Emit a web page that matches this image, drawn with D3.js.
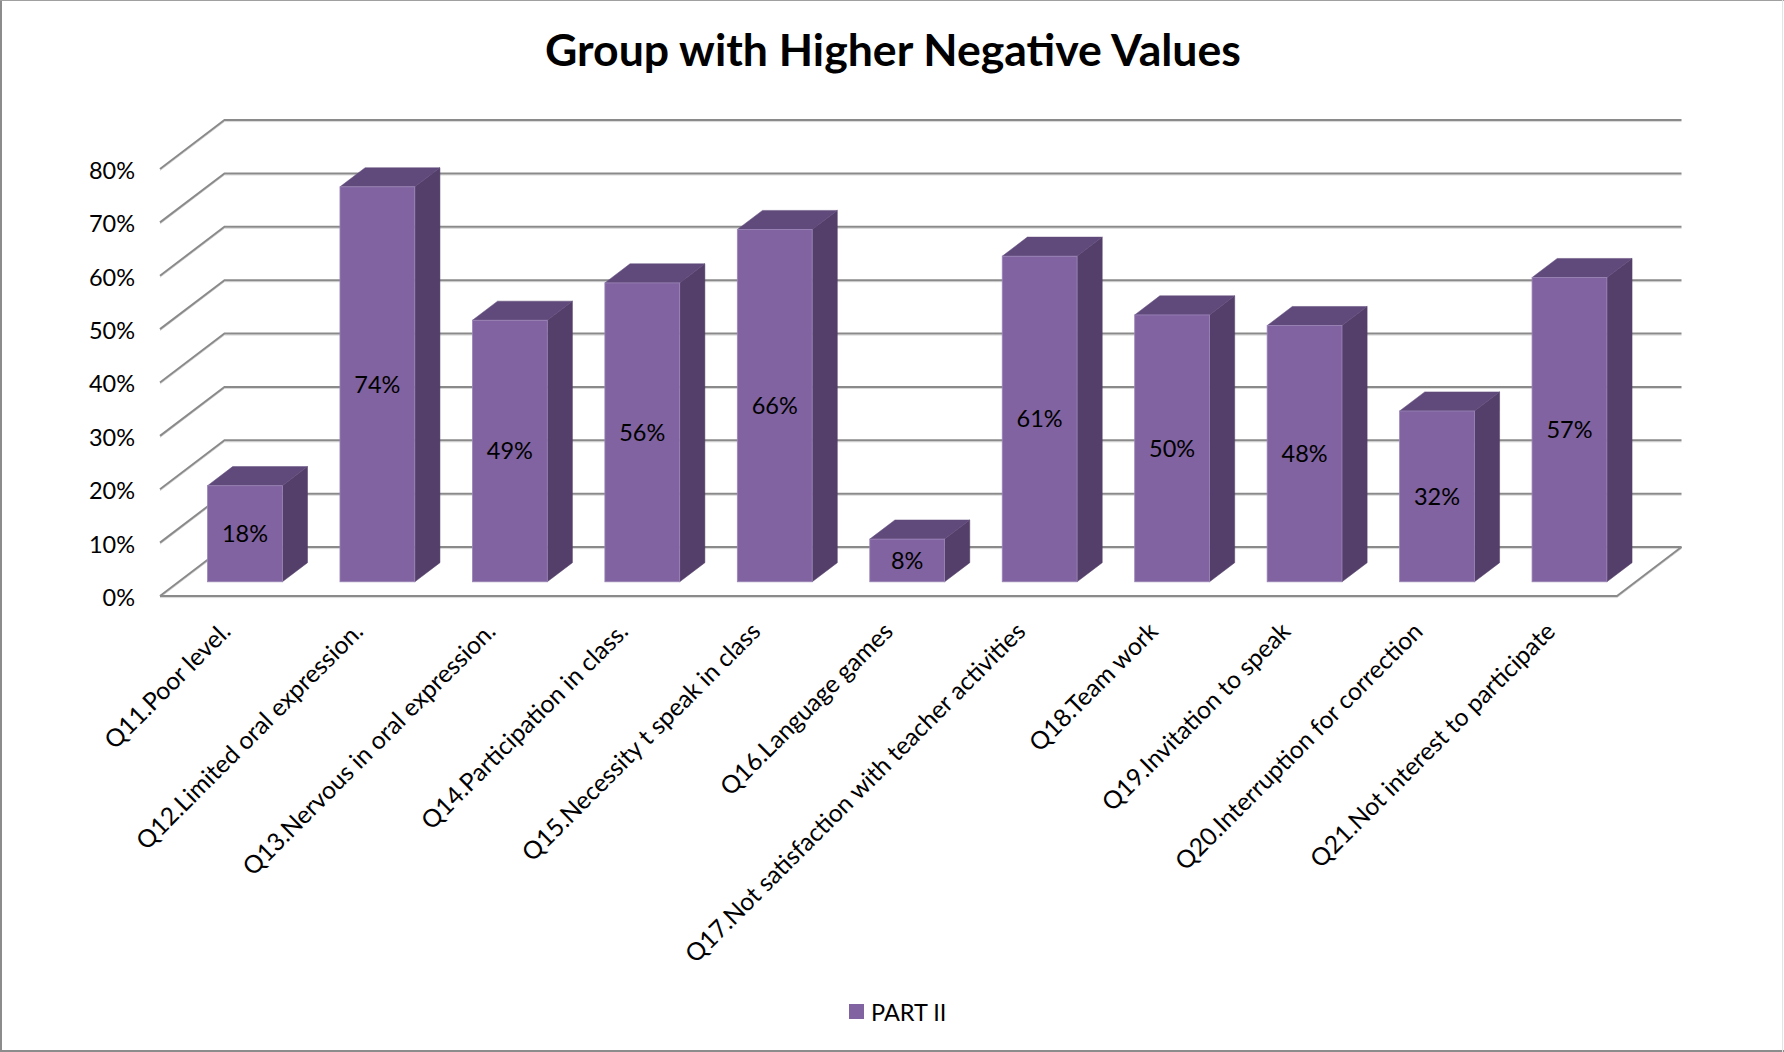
<!DOCTYPE html>
<html>
<head>
<meta charset="utf-8">
<script src="https://cdn.jsdelivr.net/npm/d3@7"></script>
<style>
html,body{margin:0;padding:0;background:#fff;}
svg{display:block;}
text{font-family:Lato,"Open Sans",sans-serif;fill:#000;}
</style>
</head>
<body>
<div id="chart"></div>
<script>
const categories = ["Q11.Poor level.","Q12.Limited oral expression.","Q13.Nervous in oral expression.","Q14.Participation in class.","Q15.Necessity t speak in class","Q16.Language games","Q17.Not satisfaction with teacher activities","Q18.Team work","Q19.Invitation to speak","Q20.Interruption for correction","Q21.Not interest to participate"];
const values = [0.18,0.74,0.49,0.56,0.66,0.08,0.61,0.50,0.48,0.32,0.57];
const yTicks = [0,0.1,0.2,0.3,0.4,0.5,0.6,0.7,0.8];
const seriesName = "PART II";
const chartTitle = "Group with Higher Negative Values";

const width = 1784, height = 1052;
const depthX = 64.5, depthY = 49;   // oblique offset of the back wall
const barDepthFrom = 0.29, barDepthTo = 0.68;
const colorFront = "#8063a0", colorSide = "#533f69", colorTop = "#604a7b", colorEdge = "#9c86b8", gridColor = "#8a8a8a";

const svg = d3.select("#chart").append("svg").attr("width", width).attr("height", height);

// outer frame, heavier on the left and bottom like the source picture
svg.append("line").attr("x1",1).attr("x2",1).attr("y1",0).attr("y2",height).attr("stroke","#8c8c8c").attr("stroke-width",2);
svg.append("line").attr("x1",0).attr("x2",width).attr("y1",0.5).attr("y2",0.5).attr("stroke","#a0a0a0").attr("stroke-width",1);
svg.append("line").attr("x1",0).attr("x2",width).attr("y1",1051).attr("y2",1051).attr("stroke","#8c8c8c").attr("stroke-width",2);
svg.append("line").attr("x1",width-1.5).attr("x2",width-1.5).attr("y1",0).attr("y2",height).attr("stroke","#e4e4e4").attr("stroke-width",1);

const x = d3.scaleBand().domain(categories).range([160,1617]).paddingInner(0.435).paddingOuter(0.2175);
const y = d3.scaleLinear().domain([0,0.8]).range([596,169]);

// project a point on the chart floor/wall to the screen, depth 0 = front, 1 = back
const px = (sx, depth)=>sx + depth*depthX;
const py = (sy, depth)=>sy - depth*depthY;
const poly = pts=>pts.map(p=>p.join(",")).join(" ");

title();
grid();
bars();
axisLabels();
legend();

function title(){
    svg.append("text").attr("x",893).attr("y",66).attr("text-anchor","middle")
        .attr("font-size",44.6).attr("font-weight",700).text(chartTitle);
}

function grid(){
    const g = svg.append("g").attr("class","grid").attr("fill","none");
    yTicks.forEach(t=>{
        const line = [[x.range()[0],y(t)],[px(x.range()[0],1),py(y(t),1)],[px(x.range()[1],1),py(y(t),1)]];
        g.append("polyline").attr("points",poly(line)).attr("stroke","#d8d8d8").attr("stroke-width",1).attr("transform","translate(0,1.6)");
        g.append("polyline").attr("points",poly(line)).attr("stroke",gridColor).attr("stroke-width",2);
    });
    const floor = [[x.range()[0],y(0)],[x.range()[1],y(0)],[px(x.range()[1],1),py(y(0),1)]];
    g.append("polyline").attr("points",poly(floor)).attr("stroke","#d8d8d8").attr("stroke-width",1).attr("transform","translate(0,1.6)");
    g.append("polyline").attr("points",poly(floor)).attr("stroke",gridColor).attr("stroke-width",2);
}

function bars(){
    const bar = svg.append("g").selectAll("g").data(categories).join("g");
    const geom = (c,i)=>{
        const x0 = px(x(c),barDepthFrom), x1 = x0 + x.bandwidth();
        const base = py(y(0),barDepthFrom), top = py(y(values[i]),barDepthFrom);
        const dx = (barDepthTo-barDepthFrom)*depthX, dy = (barDepthTo-barDepthFrom)*depthY;
        return {x0,x1,base,top,dx,dy};
    };
    bar.append("polygon").attr("points",(c,i)=>{
        const b = geom(c,i);
        return poly([[b.x1,b.base],[b.x1,b.top],[b.x1+b.dx,b.top-b.dy],[b.x1+b.dx,b.base-b.dy]]);
    }).attr("fill",colorSide).attr("stroke",colorSide).attr("stroke-width",0.5);
    bar.append("polygon").attr("points",(c,i)=>{
        const b = geom(c,i);
        return poly([[b.x0,b.top],[b.x0+b.dx,b.top-b.dy],[b.x1+b.dx,b.top-b.dy],[b.x1,b.top]]);
    }).attr("fill",colorTop).attr("stroke",colorTop).attr("stroke-width",0.5);
    bar.append("rect")
        .attr("x",(c,i)=>geom(c,i).x0)
        .attr("y",(c,i)=>geom(c,i).top)
        .attr("width",x.bandwidth())
        .attr("height",(c,i)=>geom(c,i).base-geom(c,i).top)
        .attr("fill",colorFront).attr("stroke",colorEdge).attr("stroke-width",0.8);
    bar.append("text")
        .attr("x",(c,i)=>(geom(c,i).x0+geom(c,i).x1)/2)
        .attr("y",(c,i)=>(geom(c,i).top+geom(c,i).base)/2)
        .attr("dy","0.36em").attr("text-anchor","middle").attr("font-size",23.5)
        .text((c,i)=>d3.format(".0%")(values[i]));
}

function axisLabels(){
    const yAxis = d3.axisLeft(y).tickValues(yTicks).tickFormat(d3.format(".0%")).tickSize(0).tickPadding(0);
    const ya = svg.append("g").attr("transform","translate(135,1)").call(yAxis);
    ya.select(".domain").remove();
    ya.attr("font-family",null);
    ya.selectAll("text").attr("font-size",23.5).attr("dy","0.36em");

    svg.append("g").selectAll("text").data(categories).join("text")
        .attr("text-anchor","end").attr("font-size",24.6)
        .attr("transform",c=>"translate("+(x(c)+x.bandwidth()/2+6)+",633) rotate(-45)")
        .text(c=>c);
}

function legend(){
    svg.append("rect").attr("x",849).attr("y",1004).attr("width",15).attr("height",15).attr("fill",colorFront);
    svg.append("text").attr("x",871).attr("y",1021).attr("font-size",23.5).text(seriesName);
}
</script>
</body>
</html>
